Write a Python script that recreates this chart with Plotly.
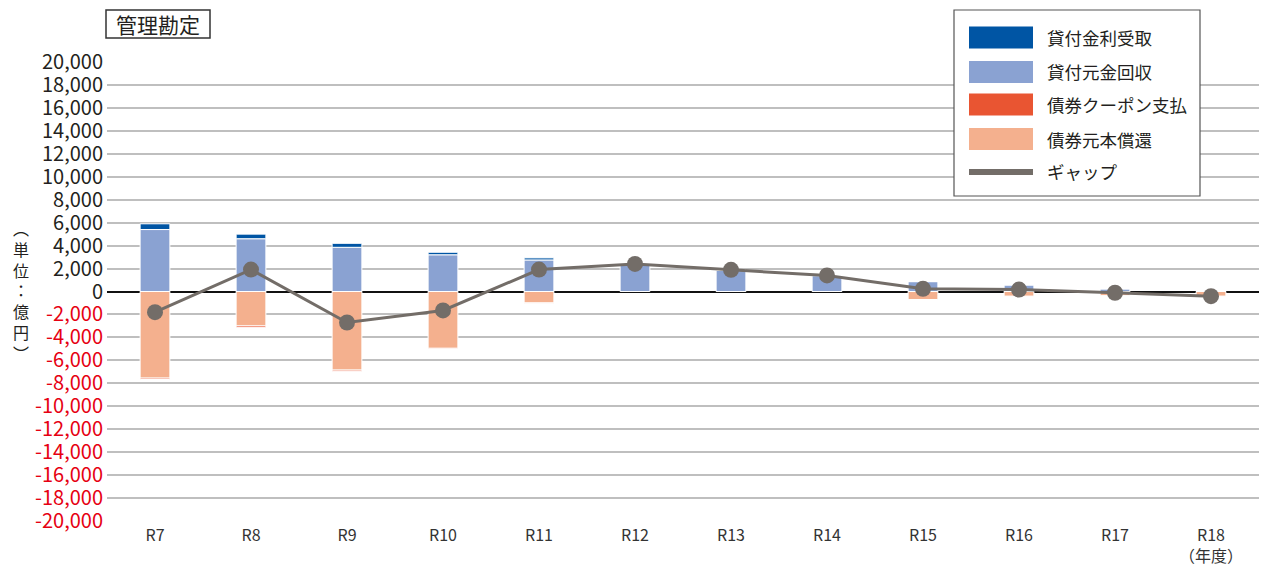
import plotly.graph_objects as go

# ---------------------- Data (億円) ----------------------
YEARS = ["R7", "R8", "R9", "R10", "R11", "R12", "R13", "R14", "R15", "R16", "R17", "R18"]
YEAR_LABELS = YEARS[:-1] + ["R18<br>（年度）"]

loan_interest = [500, 400, 350, 220, 180, 60, 40, 30, 20, 10, 5, 0]          # 貸付金利受取
loan_principal = [5400, 4600, 3850, 3200, 2750, 2350, 1830, 1380, 860, 580, 240, 0]  # 貸付元金回収
bond_coupon = [-120, -150, -100, -60, -30, 0, 0, 0, 0, 0, 0, 0]              # 債券クーポン支払
bond_principal = [-7550, -3000, -6850, -4950, -1000, 0, 0, 0, -700, -400, -360, -400]  # 債券元本償還
gap = [-1800, 1910, -2700, -1650, 1910, 2400, 1890, 1400, 230, 170, -110, -410]  # ギャップ

Y_TICKS = list(range(-20000, 20001, 2000))

# ---------------------- Style ----------------------
C_INTEREST = "#0055a4"
C_PRINCIPAL = "#8aa2d2"
C_COUPON = "#e95532"
C_BOND = "#f4b08e"
C_GAP = "#736d68"
FONT = "Noto Sans CJK JP"
TXT = "#231f20"
RED = "#e60012"

# the page body adds an 8px margin, so the figure is a bit smaller than the window
OFF = 8
W, H = 1268 - 2 * OFF, 574 - 2 * OFF
# plot area in window pixels
PL, PR, PT, PB = 107, 1259, 62, 521
PW, PH = PR - PL, PB - PT

def px_x(px):
    return (px - PL) / PW

def px_y(py):
    return (PB - py) / PH

fig = go.Figure()

# stacked bars: first trace in each direction sits next to zero
bar_series = [
    ("貸付元金回収", loan_principal, C_PRINCIPAL),
    ("貸付金利受取", loan_interest, C_INTEREST),
    ("債券元本償還", bond_principal, C_BOND),
    ("債券クーポン支払", bond_coupon, C_COUPON),
]
for name, vals, col in bar_series:
    fig.add_trace(go.Bar(
        x=YEARS, y=vals, name=name, marker_color=col,
        marker_line=dict(color="white", width=1), showlegend=False,
    ))

fig.add_trace(go.Scatter(
    x=YEARS, y=gap, name="ギャップ", mode="lines+markers",
    line=dict(color=C_GAP, width=3), marker=dict(color=C_GAP, size=16),
    showlegend=False,
))

def ytick_text(v):
    s = f"{v:,}"
    if v < 0:
        return f'<span style="color:{RED}">{s}</span>'
    return s

fig.update_layout(
    width=W, height=H,
    margin=dict(l=PL - OFF, r=W - (PR - OFF), t=PT - OFF, b=H - (PB - OFF), autoexpand=False),
    barmode="relative", bargap=0.69,
    plot_bgcolor="white", paper_bgcolor="white",
    font=dict(family=FONT, color=TXT, size=17),
    xaxis=dict(
        tickmode="array", tickvals=YEARS, ticktext=YEAR_LABELS,
        range=[-0.5, 11.5], showgrid=False, ticks="", showline=False,
        tickfont=dict(size=16, color="#333333"), ticklabelstandoff=3,
    ),
    yaxis=dict(
        range=[-20000, 20000], tickmode="array", tickvals=Y_TICKS,
        ticktext=[ytick_text(v) for v in Y_TICKS],
        showgrid=True, gridcolor="#bfbfbf", gridwidth=1.5,
        zeroline=True, zerolinecolor="#111111", zerolinewidth=2,
        ticks="", tickfont=dict(size=20, color=TXT), showline=False,
        ticklabelstandoff=3,
    ),
)

# title box
fig.add_shape(type="rect", xref="paper", yref="paper",
              x0=px_x(106), x1=px_x(210), y0=px_y(38), y1=px_y(10),
              line=dict(color="#333333", width=1.5), fillcolor="white")
fig.add_annotation(
    xref="paper", yref="paper", x=px_x(158), y=px_y(24),
    xanchor="center", yanchor="middle",
    text="管理勘定", showarrow=False, font=dict(size=21, color=TXT),
)

# vertical unit label
unit = "︵<br>単<br>位<br>：<br>億<br>円<br>︶"
fig.add_annotation(
    xref="paper", yref="paper", x=px_x(21), y=px_y(290),
    xanchor="center", yanchor="middle",
    text=unit, showarrow=False, font=dict(size=16, color=TXT),
)

# ---------------------- custom legend ----------------------
fig.add_shape(type="rect", xref="paper", yref="paper",
              x0=px_x(954), x1=px_x(1200), y0=px_y(196), y1=px_y(10),
              line=dict(color="#555555", width=1.2), fillcolor="white", layer="above")

legend_items = [
    ("貸付金利受取", C_INTEREST, 37.5),
    ("貸付元金回収", C_PRINCIPAL, 72),
    ("債券クーポン支払", C_COUPON, 104.5),
    ("債券元本償還", C_BOND, 139),
]
for name, col, cy in legend_items:
    fig.add_shape(type="rect", xref="paper", yref="paper",
                  x0=px_x(969), x1=px_x(1033), y0=px_y(cy + 11), y1=px_y(cy - 11),
                  line=dict(width=0), fillcolor=col, layer="above")
    fig.add_annotation(xref="paper", yref="paper", x=px_x(1045), y=px_y(cy),
                       xanchor="left", yanchor="middle", text=name, showarrow=False,
                       font=dict(size=17.5, color=TXT))

fig.add_shape(type="line", xref="paper", yref="paper",
              x0=px_x(969), x1=px_x(1033), y0=px_y(172), y1=px_y(172),
              line=dict(color=C_GAP, width=6), layer="above")
fig.add_annotation(xref="paper", yref="paper", x=px_x(1045), y=px_y(171),
                   xanchor="left", yanchor="middle", text="ギャップ", showarrow=False,
                   font=dict(size=17.5, color=TXT))

fig.write_html("out.html")
